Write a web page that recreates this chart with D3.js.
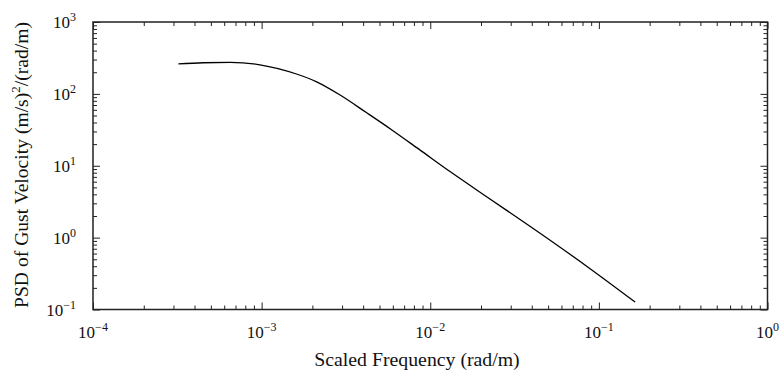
<!DOCTYPE html>
<html>
<head>
<meta charset="utf-8">
<script src="https://cdn.jsdelivr.net/npm/d3@7"></script>
<style>
  html, body { margin: 0; padding: 0; background: #fff; }
  svg { display: block; }
  text { font-family: "Liberation Serif", "Times New Roman", serif; fill: #111; }
</style>
</head>
<body>
<svg id="chart" width="780" height="374"></svg>
<script>
// Data
const freq = [3.21e-4, 4.49e-4, 6.50e-4, 9.77e-4, 1.61e-3, 2.12e-3, 2.92e-3, 4.20e-3,
              5.92e-3, 8.71e-3, 1.31e-2, 2.26e-2, 4.08e-2, 8.87e-2, 1.64e-1];
const psd  = [262, 271, 275, 254, 189, 147, 96.3, 54.5,
              31.5, 16.5, 8.3, 3.45, 1.34, 0.37, 0.127];
const xTickExps = [-4, -3, -2, -1, 0];
const yTickExps = [-1, 0, 1, 2, 3];
const xLabel = "Scaled Frequency (rad/m)";
const yLabelParts = ["PSD of Gust Velocity (m/s)", "2", "/(rad/m)"];

const svg = d3.select("#chart");
const FONT = "Liberation Serif, Times New Roman, serif";
const L = 93, R = 767.5, T = 22, B = 309.5;

const x = d3.scaleLog().domain([1e-4, 1]).range([L, R]);
const y = d3.scaleLog().domain([1e-1, 1e3]).range([B, T]);

const majorX = xTickExps.map(e => Math.pow(10, e));
const majorY = yTickExps.map(e => Math.pow(10, e));
function minors(exps) {
  const out = [];
  for (let i = 0; i < exps.length - 1; i++)
    for (let k = 2; k <= 9; k++) out.push(k * Math.pow(10, exps[i]));
  return out;
}
const minorX = minors(xTickExps), minorY = minors(yTickExps);

function styleAxis(g) {
  g.select(".domain").remove();
  g.selectAll(".tick line").attr("stroke", "#222").attr("stroke-width", 1);
  g.selectAll(".tick text").remove();
}

// Bottom
svg.append("g").attr("transform", `translate(0,${B})`)
  .call(d3.axisBottom(x).tickValues(majorX).tickSize(-7)).call(styleAxis);
svg.append("g").attr("transform", `translate(0,${B})`)
  .call(d3.axisBottom(x).tickValues(minorX).tickSize(-4)).call(styleAxis);
// Top
svg.append("g").attr("transform", `translate(0,${T})`)
  .call(d3.axisTop(x).tickValues(majorX).tickSize(-7)).call(styleAxis);
svg.append("g").attr("transform", `translate(0,${T})`)
  .call(d3.axisTop(x).tickValues(minorX).tickSize(-4)).call(styleAxis);
// Left
svg.append("g").attr("transform", `translate(${L},0)`)
  .call(d3.axisLeft(y).tickValues(majorY).tickSize(-7)).call(styleAxis);
svg.append("g").attr("transform", `translate(${L},0)`)
  .call(d3.axisLeft(y).tickValues(minorY).tickSize(-4)).call(styleAxis);
// Right
svg.append("g").attr("transform", `translate(${R},0)`)
  .call(d3.axisRight(y).tickValues(majorY).tickSize(-7)).call(styleAxis);
svg.append("g").attr("transform", `translate(${R},0)`)
  .call(d3.axisRight(y).tickValues(minorY).tickSize(-4)).call(styleAxis);

// Frame
svg.append("rect").attr("x", L).attr("y", T).attr("width", R - L).attr("height", B - T)
  .attr("fill", "none").attr("stroke", "#222").attr("stroke-width", 1.5);

function expText(e) { return e < 0 ? "\u2212" + Math.abs(e) : String(e); }

// X tick labels
xTickExps.forEach(e => {
  const t = svg.append("text").attr("x", x(Math.pow(10, e))).attr("y", 338)
    .attr("font-family", FONT).attr("text-anchor", "middle").attr("font-size", 17);
  t.append("tspan").text("10");
  t.append("tspan").attr("dy", -7).attr("font-size", 12).text(expText(e));
});
// Y tick labels
yTickExps.forEach(e => {
  const t = svg.append("text").attr("x", L - 17).attr("y", y(Math.pow(10, e)) + 6)
    .attr("font-family", FONT).attr("text-anchor", "end").attr("font-size", 17);
  t.append("tspan").text("10");
  t.append("tspan").attr("dy", -7).attr("font-size", 12).text(expText(e));
});

// Axis titles
svg.append("text").attr("x", 417).attr("y", 366).attr("text-anchor", "middle")
  .attr("font-family", FONT).attr("font-size", 19.8).text(xLabel);
const yt = svg.append("text").attr("transform", "translate(28,165) rotate(-90)")
  .attr("font-family", FONT).attr("text-anchor", "middle").attr("font-size", 19.6);
yt.append("tspan").text(yLabelParts[0]);
yt.append("tspan").attr("dy", -8).attr("font-size", 13).text(yLabelParts[1]);
yt.append("tspan").attr("dy", 8).text(yLabelParts[2]);

// Curve
const data = freq.map((f, i) => [f, psd[i]]);
svg.append("path").datum(data)
  .attr("fill", "none").attr("stroke", "#000").attr("stroke-width", 1.3)
  .attr("d", d3.line().x(d => x(d[0])).y(d => y(d[1])).curve(d3.curveMonotoneX));
</script>
</body>
</html>
